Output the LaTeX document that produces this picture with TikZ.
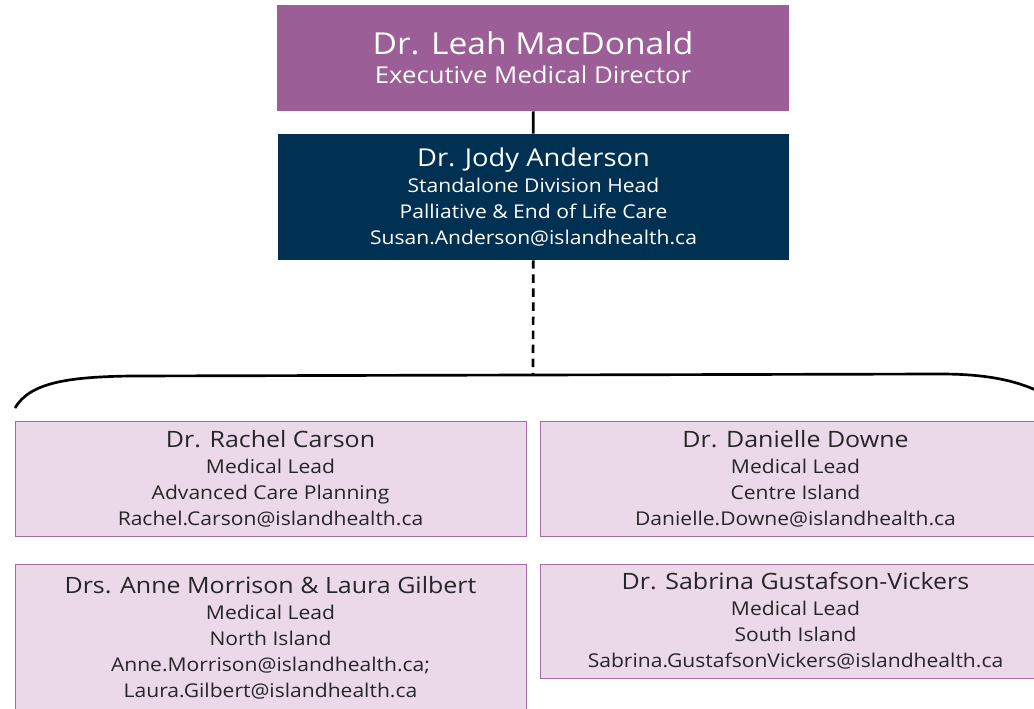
\documentclass[tikz,border=0pt]{standalone}
\usepackage{fontspec}
\setmainfont{Open Sans}[FakeStretch=1.11]
\usetikzlibrary{positioning}
\definecolor{execpurple}{RGB}{155,94,150}
\definecolor{headnavy}{RGB}{0,48,82}
\definecolor{leadpink}{RGB}{235,217,234}
\definecolor{leadedge}{RGB}{166,110,164}
\definecolor{leadtext}{RGB}{38,38,38}

\begin{document}
\begin{tikzpicture}[x=0.025cm, y=-0.025cm, every node/.style={font=\fontsize{13.5}{18.5}\selectfont}]
\tikzstyle{lead}=[draw=leadedge, line width=0.6pt, fill=leadpink, text=leadtext, align=center, inner sep=0pt, minimum width=511*0.025cm]
\tikzstyle{head}=[align=center, inner sep=0pt, text=white]
\tikzstyle{link}=[line width=1.9pt, black]
\clip (0,0) rectangle (1034,709);
\node[head, fill=execpurple, minimum width=512*0.025cm, minimum height=106*0.025cm] (exec) at (533,58)
  {{\fontsize{21.5}{24}\selectfont Dr. Leah MacDonald}\\[2pt]{\fontsize{16.5}{21}\selectfont Executive Medical Director}};
\node[head, fill=headnavy, minimum width=511*0.025cm, minimum height=126*0.025cm] (div) at (533.5,197)
  {{\fontsize{17.5}{19}\selectfont Dr. Jody Anderson}\\Standalone Division Head\\Palliative \& End of Life Care\\Susan.Anderson@islandhealth.ca};
\node[lead, minimum height=115*0.025cm] (acp) at (270.5,478.5)
  {{\fontsize{16}{18.5}\selectfont Dr. Rachel Carson}\\Medical Lead\\Advanced Care Planning\\Rachel.Carson@islandhealth.ca};
\node[lead, minimum height=115*0.025cm] (centre) at (795.5,478.5)
  {{\fontsize{16}{18.5}\selectfont Dr. Danielle Downe}\\Medical Lead\\Centre Island\\Danielle.Downe@islandhealth.ca};
\node[lead, minimum height=148*0.025cm] (north) at (270.5,638)
  {{\fontsize{16}{18.5}\selectfont Drs. Anne Morrison \& Laura Gilbert}\\Medical Lead\\North Island\\Anne.Morrison@islandhealth.ca;\\Laura.Gilbert@islandhealth.ca};
\node[lead, minimum height=114*0.025cm] (south) at (795.5,621)
  {{\fontsize{16}{18.5}\selectfont Dr. Sabrina Gustafson-Vickers}\\Medical Lead\\South Island\\Sabrina.GustafsonVickers@islandhealth.ca};
% brace over the medical leads
\coordinate (braceL) at (15,408);
\coordinate (braceM) at (533,375);
\coordinate (braceR) at (1040,392);
\draw[link] (braceL) .. controls (30,382) and (70,377) .. (130,376) -- (braceM) -- (940,374) .. controls (985,374) and (1015,380) .. (braceR);
\draw[link] (exec) -- (div);
\draw[link, dash pattern=on 6pt off 4pt] (div) -- (braceM);
\end{tikzpicture}
\end{document}
